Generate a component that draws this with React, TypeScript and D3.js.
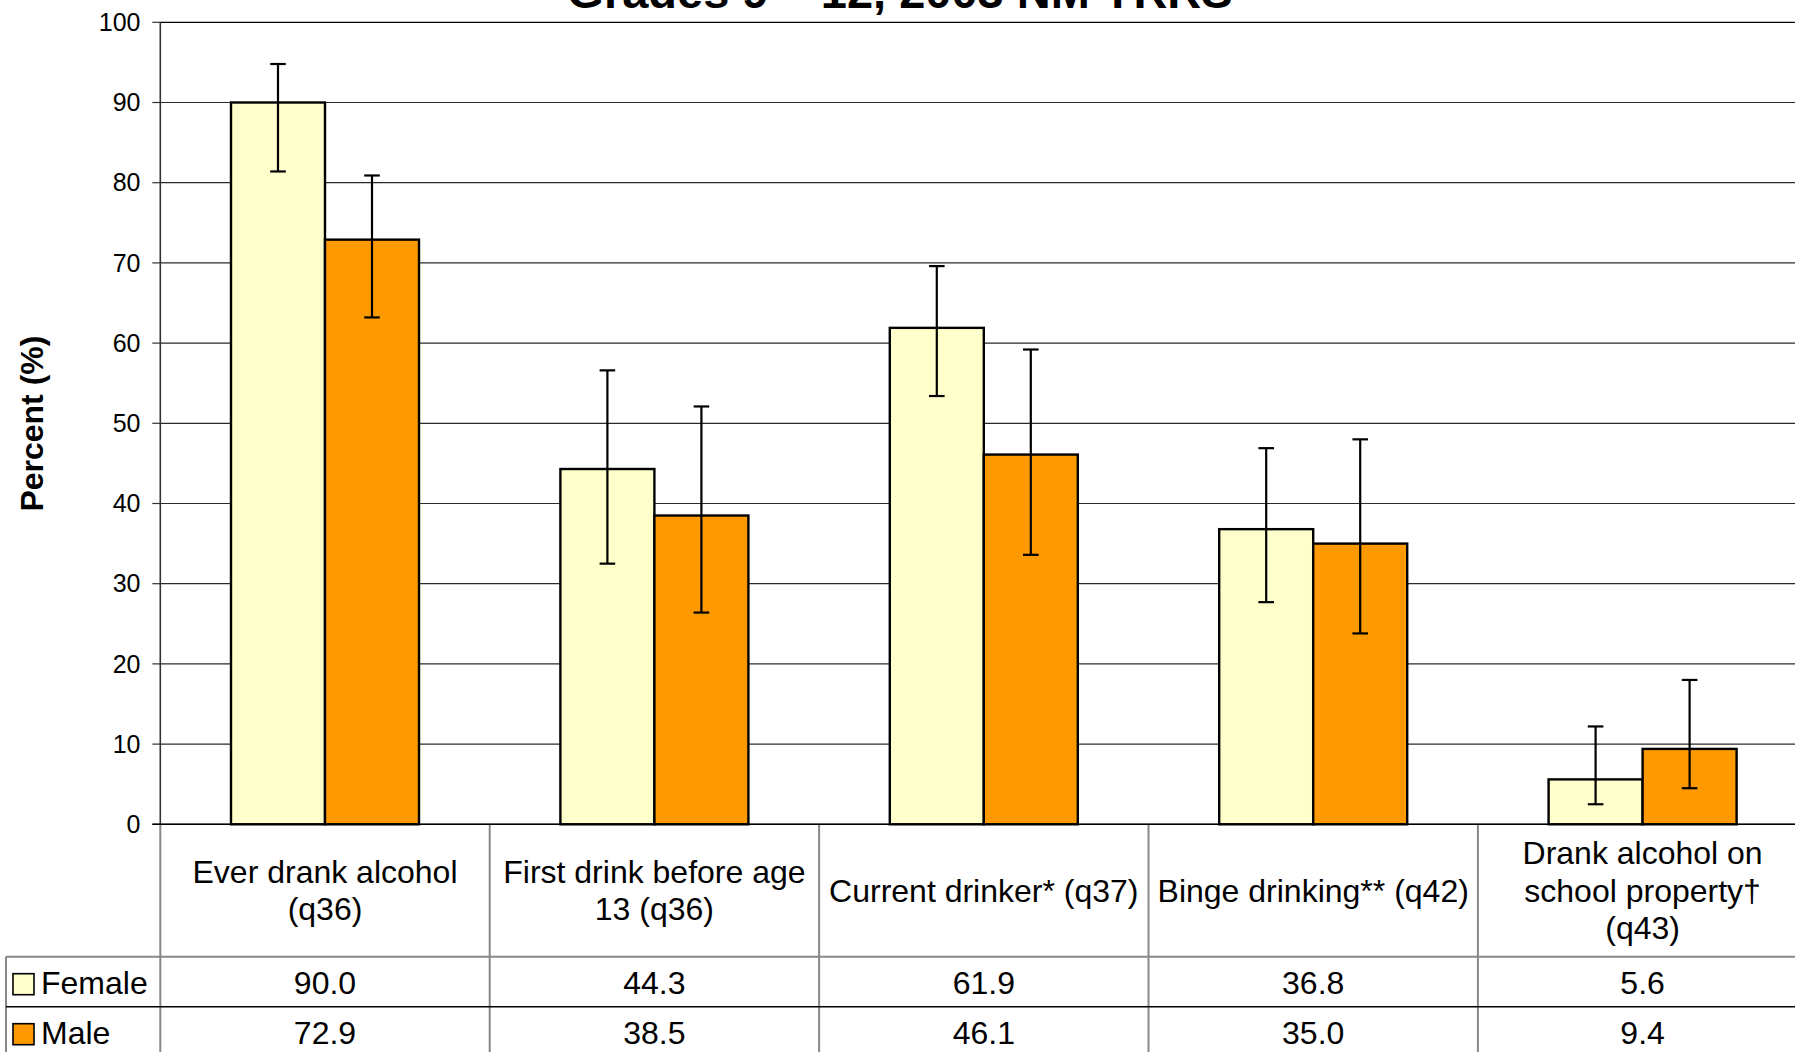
import React from 'react';
import * as d3 from 'd3';

// categories and their label lines (header row of the data table)
const categories = ['ever', 'first', 'current', 'binge', 'school'];
const categoryLabels = [
  ['Ever drank alcohol', '(q36)'],
  ['First drink before age', '13 (q36)'],
  ['Current drinker* (q37)'],
  ['Binge drinking** (q42)'],
  ['Drank alcohol on', 'school property†', '(q43)'],
];

const seriesNames = ['Female', 'Male'];
const seriesColors = ['#FFFFCC', '#FF9900'];

const femaleValues = [90.0, 44.3, 61.9, 36.8, 5.6];
const maleValues = [72.9, 38.5, 46.1, 35.0, 9.4];

// 95% confidence intervals [low, high]
const femaleCI = [
  [81.4, 94.8],
  [32.5, 56.6],
  [53.4, 69.6],
  [27.7, 46.9],
  [2.5, 12.2],
];
const maleCI = [
  [63.2, 80.9],
  [26.4, 52.1],
  [33.6, 59.2],
  [23.8, 48.0],
  [4.5, 18.0],
];

const yTicks = [0, 10, 20, 30, 40, 50, 60, 70, 80, 90, 100];

const title = 'Grades 9 – 12, 2003 NM YRRS';
const yTitle = 'Percent (%)';

const WIDTH = 1795;
const HEIGHT = 1052;
const FONT = '"Liberation Sans", Arial, Helvetica, sans-serif';

export default function App() {
  const plotLeft = 160.3;
  const plotTop = 22.3;
  const plotBottom = 824.3;
  const catWidth = 329.4;
  const headerBottom = 956.7;
  const rowHeight = 50;
  const tableLeft = 6;
  const tableFont = 32;

  const y = d3.scaleLinear().domain([0, 100]).range([plotBottom, plotTop]);
  const x0 = d3
    .scaleBand()
    .domain(categories)
    .range([plotLeft, plotLeft + catWidth * categories.length])
    .padding(0);
  const x1 = d3
    .scaleBand()
    .domain(seriesNames)
    .range([0, x0.bandwidth()])
    .paddingInner(0)
    .paddingOuter(0.752);

  const series = [
    { name: 'Female', values: femaleValues, ci: femaleCI, color: seriesColors[0] },
    { name: 'Male', values: maleValues, ci: maleCI, color: seriesColors[1] },
  ];

  const capHalf = 7.8;
  const lineH = 37.5;
  const headerCenter = (plotBottom + headerBottom) / 2;

  return (
    <svg
      width={WIDTH}
      height={HEIGHT}
      style={{ position: 'absolute', left: 0, top: 0, background: '#fff' }}
      fontFamily={FONT}
    >
      {/* title, clipped at the top like the source */}
      <text x={900} y={8} textAnchor="middle" fontSize={47} fontWeight="bold" fill="#000">
        {title}
      </text>

      {/* grid lines */}
      {yTicks.map((t) => (
        <line
          key={`g${t}`}
          x1={plotLeft}
          x2={WIDTH}
          y1={y(t)}
          y2={y(t)}
          stroke={t === 100 ? '#000' : '#2a2a2a'}
          strokeWidth={1.2}
        />
      ))}

      {/* y axis */}
      <line x1={plotLeft} x2={plotLeft} y1={plotTop} y2={plotBottom} stroke="#333" strokeWidth={1.6} />
      {yTicks.map((t) => (
        <g key={`t${t}`}>
          <line x1={plotLeft - 8} x2={plotLeft} y1={y(t)} y2={y(t)} stroke="#333" strokeWidth={1.2} />
          <text x={140.5} y={y(t)} dy="0.35em" textAnchor="end" fontSize={25} fill="#000">
            {t}
          </text>
        </g>
      ))}

      <text
        transform={`translate(43,423.6) rotate(-90)`}
        textAnchor="middle"
        fontSize={32}
        fontWeight="bold"
        fill="#000"
      >
        {yTitle}
      </text>

      {/* bars */}
      {series.map((s) =>
        categories.map((c, i) => {
          const bx = (x0(c) || 0) + (x1(s.name) || 0);
          return (
            <rect
              key={`${s.name}-${c}`}
              x={bx}
              y={y(s.values[i])}
              width={x1.bandwidth()}
              height={plotBottom - y(s.values[i])}
              fill={s.color}
              stroke="#000"
              strokeWidth={2.4}
            />
          );
        })
      )}

      {/* error bars */}
      {series.map((s) =>
        categories.map((c, i) => {
          const cx = (x0(c) || 0) + (x1(s.name) || 0) + x1.bandwidth() / 2;
          const [lo, hi] = s.ci[i];
          return (
            <g key={`e-${s.name}-${c}`} stroke="#000" strokeWidth={2.2}>
              <line x1={cx} x2={cx} y1={y(hi)} y2={y(lo)} />
              <line x1={cx - capHalf} x2={cx + capHalf} y1={y(hi)} y2={y(hi)} />
              <line x1={cx - capHalf} x2={cx + capHalf} y1={y(lo)} y2={y(lo)} />
            </g>
          );
        })
      )}

      {/* data table */}
      {categories.map((c) => (
        <line
          key={`v${c}`}
          x1={x0(c)}
          x2={x0(c)}
          y1={plotBottom}
          y2={HEIGHT}
          stroke="#888"
          strokeWidth={2}
        />
      ))}
      <line x1={tableLeft} x2={tableLeft} y1={headerBottom} y2={HEIGHT} stroke="#888" strokeWidth={2} />
      <line x1={tableLeft} x2={WIDTH} y1={headerBottom} y2={headerBottom} stroke="#888" strokeWidth={2} />
      <line
        x1={tableLeft}
        x2={WIDTH}
        y1={headerBottom + rowHeight}
        y2={headerBottom + rowHeight}
        stroke="#000"
        strokeWidth={1.4}
      />

      {/* zero line */}
      <line x1={plotLeft - 8} x2={WIDTH} y1={plotBottom} y2={plotBottom} stroke="#000" strokeWidth={1.6} />

      {/* header labels */}
      {categories.map((c, i) => {
        const lines = categoryLabels[i];
        const first = headerCenter - ((lines.length - 1) / 2) * lineH + 11;
        const cx = (x0(c) || 0) + x0.bandwidth() / 2;
        return (
          <text key={`h${c}`} x={cx} textAnchor="middle" fontSize={tableFont} fill="#000">
            {lines.map((l, j) => (
              <tspan key={j} x={cx} y={first + j * lineH}>
                {l}
              </tspan>
            ))}
          </text>
        );
      })}

      {/* value rows */}
      {series.map((s, r) => {
        const rowCenter = headerBottom + rowHeight * r + rowHeight / 2;
        return (
          <g key={`row${s.name}`}>
            <rect
              x={13}
              y={rowCenter - 8}
              width={21}
              height={21}
              fill={s.color}
              stroke="#000"
              strokeWidth={1.6}
            />
            <text x={41} y={rowCenter + 12} fontSize={tableFont} fill="#000">
              {s.name}
            </text>
            {categories.map((c, i) => (
              <text
                key={`val${s.name}${c}`}
                x={(x0(c) || 0) + x0.bandwidth() / 2}
                y={rowCenter + 12}
                textAnchor="middle"
                fontSize={tableFont}
                fill="#000"
              >
                {s.values[i].toFixed(1)}
              </text>
            ))}
          </g>
        );
      })}
    </svg>
  );
}
